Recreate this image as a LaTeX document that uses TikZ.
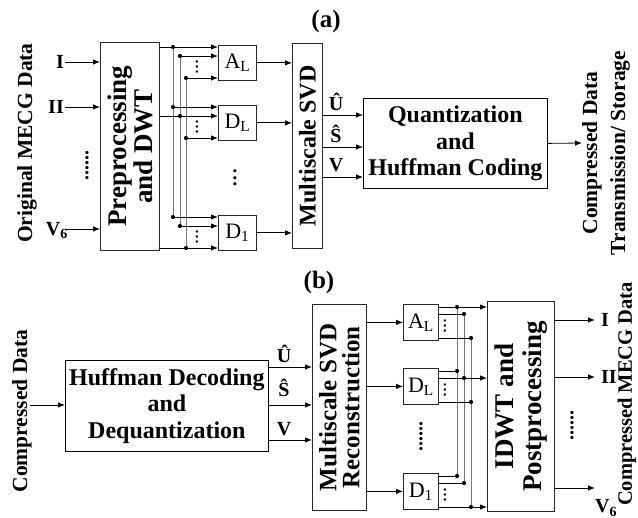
\documentclass[tikz,border=0pt]{standalone}
\usepackage{fontspec}
\setmainfont{Liberation Serif}
\usetikzlibrary{arrows.meta}
\tikzset{
  box/.style={draw=black!85, line width=0.8pt, inner sep=0pt, anchor=north west},
  arr/.style={line width=0.8pt, -{Latex[length=7pt,width=5.5pt]}},
  ln/.style={line width=0.8pt},
  bus/.style={line width=0.9pt, draw=black!55},
  lbl/.style={font=\fontsize{21.5}{28}\selectfont\bfseries, align=center},
  boxtxt/.style={font=\fontsize{24}{26.5}\selectfont\bfseries, align=center},
  bigtxt/.style={font=\fontsize{27}{26}\selectfont\bfseries, align=center},
  sym/.style={font=\fontsize{20}{22}\selectfont\bfseries, inner sep=0pt},
  subtxt/.style={font=\fontsize{22}{24}\selectfont, inner sep=0pt},
  title/.style={font=\fontsize{25}{27}\selectfont\bfseries},
  vdots/.style={rotate=90, font=\fontsize{20}{20}\selectfont, inner sep=0pt},
}
\newcommand{\busdot}[1]{\fill (#1) circle (2.1pt);}
\begin{document}
\begin{tikzpicture}[x=1pt,y=-1pt]
\useasboundingbox (0,0) rectangle (638,518);

%================ (a) ================
\node[title] (ta) at (326,21) {(a)};
\node[lbl, rotate=90] (orig) at (27,143) {Original MECG Data};

\node[box, minimum width=59pt, minimum height=208pt] (pp) at (100,42) {};
\node[bigtxt, rotate=90] (pptxt) at (pp.center) {Preprocessing\\and DWT};

\coordinate (aI) at (65,62);
\coordinate (aII) at (65,107);
\coordinate (aV) at (65,229);
\node[sym, anchor=base east] (laI) at (64,68.5) {I};
\node[sym, anchor=base east] (laII) at (64,113.5) {II};
\node[sym, anchor=base east] (laV) at (68,235.5) {V\textsubscript{6}};
\draw[arr] (aI) -- (pp.west |- aI);
\draw[arr] (aII) -- (pp.west |- aII);
\draw[arr] (aV) -- (pp.west |- aV);
\node[vdots, font=\fontsize{20}{20}\selectfont\bfseries] (adots) at (87,166) {......};

% sub-band boxes
\node[box, minimum width=38pt, minimum height=35pt] (aAL) at (218,45) {};
\node[box, minimum width=38pt, minimum height=35pt] (aDL) at (218,105) {};
\node[box, minimum width=38pt, minimum height=35pt] (aD1) at (218,215) {};
\node[subtxt] (aALt) at (aAL.center) {A\textsubscript{L}};
\node[subtxt] (aDLt) at (aDL.center) {D\textsubscript{L}};
\node[subtxt] (aD1t) at (aD1.center) {D\textsubscript{1}};
\node[vdots, font=\fontsize{26}{26}\selectfont] (amid) at (235,178) {...};

% bus points
\coordinate (a1) at (173,47);  \coordinate (a2) at (180,56);  \coordinate (a3) at (186,78);
\coordinate (d1) at (173,107); \coordinate (d2) at (180,116); \coordinate (d3) at (186,138);
\coordinate (e1) at (173,217); \coordinate (e2) at (180,226); \coordinate (e3) at (186,248);
\draw[bus] (a1) -- (e1);
\draw[bus] (a2) -- (e2);
\draw[bus] (a3) -- (e3);
\draw[arr] (pp.east |- a1) -- (aAL.west |- a1);
\draw[arr] (a2) -- (aAL.west |- a2);
\draw[arr] (a3) -- (aAL.west |- a3);
\draw[arr] (d1) -- (aDL.west |- d1);
\draw[arr] (pp.east |- d2) -- (aDL.west |- d2);
\draw[arr] (d3) -- (aDL.west |- d3);
\draw[arr] (e1) -- (aD1.west |- e1);
\draw[arr] (e2) -- (aD1.west |- e2);
\draw[arr] (pp.east |- e3) -- (aD1.west |- e3);
\foreach \p in {a1,a2,a3,d1,d2,d3,e1,e2,e3} {\busdot{\p}}
\node[vdots] (av1) at (197,67) {...};
\node[vdots] (av2) at (197,127) {...};
\node[vdots] (av3) at (197,237) {...};

% multiscale SVD
\node[box, minimum width=30pt, minimum height=205pt] (asvd) at (292,43) {};
\node[boxtxt, rotate=90] (asvdt) at (asvd.center) {Multiscale SVD};
\draw[arr] (aAL.east) -- (asvd.west |- aAL.east);
\draw[arr] (aDL.east) -- (asvd.west |- aDL.east);
\draw[arr] (aD1.east) -- (asvd.west |- aD1.east);

% quantization
\node[box, draw=black, minimum width=184pt, minimum height=90pt] (aq) at (363,98) {};
\node[boxtxt] (aqt) at (aq.center) {Quantization\\and\\Huffman Coding};
\coordinate (aU) at (322,115);
\coordinate (aS) at (322,147);
\coordinate (aVV) at (322,177);
\draw[arr] (aU) -- (aq.west |- aU);
\draw[arr] (aS) -- (aq.west |- aS);
\draw[arr] (aVV) -- (aq.west |- aVV);
\node[sym, anchor=base] (laU) at (336,111) {Û};
\node[sym, anchor=base] (laS) at (336,143) {Ŝ};
\node[sym, anchor=base] (laVV) at (336,172) {V};
\coordinate (aout) at (582,143);
\draw[arr] (aq.east) -- (aout);
\node[lbl, rotate=90] (acd) at (606,153) {Compressed Data\\Transmission/ Storage};

%================ (b) ================
\node[title] (tb) at (319,282) {(b)};
\node[lbl, rotate=90] (bcd) at (22,411) {Compressed Data};
\node[box, draw=black, minimum width=203pt, minimum height=91pt] (bhd) at (65,360) {};
\node[boxtxt] (bhdt) at (bhd.center) {Huffman Decoding\\and\\Dequantization};
\coordinate (bin) at (30,405);
\draw[arr] (bin) -- (bhd.west |- bin);

\node[box, minimum width=54pt, minimum height=206pt] (bsvd) at (312,304) {};
\node[font=\fontsize{25}{23}\selectfont\bfseries, align=center, rotate=90] (bsvdt) at (bsvd.center) {Multiscale SVD\\Reconstruction};
\coordinate (bU) at (268,367);
\coordinate (bS) at (268,405);
\coordinate (bVV) at (268,440);
\draw[arr] (bU) -- (bsvd.west |- bU);
\draw[arr] (bS) -- (bsvd.west |- bS);
\draw[arr] (bVV) -- (bsvd.west |- bVV);
\node[sym, anchor=base] (lbU) at (284,363) {Û};
\node[sym, anchor=base] (lbS) at (284,397) {Ŝ};
\node[sym, anchor=base] (lbVV) at (284,436) {V};

\node[box, minimum width=35pt, minimum height=36pt] (bAL) at (403,304) {};
\node[box, minimum width=35pt, minimum height=36pt] (bDL) at (403,368) {};
\node[box, minimum width=35pt, minimum height=36pt] (bD1) at (403,473) {};
\node[subtxt] (bALt) at (bAL.center) {A\textsubscript{L}};
\node[subtxt] (bDLt) at (bDL.center) {D\textsubscript{L}};
\node[subtxt] (bD1t) at (bD1.center) {D\textsubscript{1}};
\draw[arr] (bsvd.east |- bAL.west) -- (bAL.west);
\draw[arr] (bsvd.east |- bDL.west) -- (bDL.west);
\draw[arr] (bsvd.east |- bD1.west) -- (bD1.west);
\node[vdots, font=\fontsize{20}{20}\selectfont\bfseries] (bmid) at (421,437) {......};

\node[box, minimum width=67pt, minimum height=210pt] (bid) at (487,301) {};
\node[bigtxt, rotate=90, font=\fontsize{27}{28}\selectfont\bfseries] (bidt) at (bid.center) {IDWT and\\Postprocessing};

\coordinate (p1) at (457,307); \coordinate (p2) at (464,314); \coordinate (p3) at (471,338);
\coordinate (q1) at (457,371); \coordinate (q2) at (464,378); \coordinate (q3) at (471,402);
\coordinate (r1) at (457,476); \coordinate (r2) at (464,483); \coordinate (r3) at (471,507);
\draw[bus] (p1) -- (r1);
\draw[bus] (p2) -- (r2);
\draw[bus] (p3) -- (r3);
\draw[arr] (bAL.east |- p1) -- (bid.west |- p1);
\draw[ln] (bAL.east |- p2) -- (p2);
\draw[ln] (bAL.east |- p3) -- (p3);
\draw[ln] (bDL.east |- q1) -- (q1);
\draw[arr] (bDL.east |- q2) -- (bid.west |- q2);
\draw[ln] (bDL.east |- q3) -- (q3);
\draw[ln] (bD1.east |- r1) -- (r1);
\draw[ln] (bD1.east |- r2) -- (r2);
\draw[arr] (bD1.east |- r3) -- (bid.west |- r3);
\foreach \p in {p1,p2,p3,q1,q2,q3,r1,r2,r3} {\busdot{\p}}
\node[vdots] (bv1) at (445,326) {...};
\node[vdots] (bv2) at (445,390) {...};
\node[vdots] (bv3) at (445,495) {...};

\coordinate (oI) at (595,320);
\coordinate (oII) at (595,377);
\coordinate (oV) at (595,488);
\draw[arr] (bid.east |- oI) -- (oI);
\draw[arr] (bid.east |- oII) -- (oII);
\draw[arr] (bid.east |- oV) -- (oV);
\node[sym, anchor=base west] (lbI) at (601,326.5) {I};
\node[sym, anchor=base west] (lbII) at (601,383.5) {II};
\node[sym, anchor=base west] (lbV) at (595,513) {V\textsubscript{6}};
\node[vdots, font=\fontsize{20}{20}\selectfont\bfseries] (bodots) at (572,426) {......};
\node[font=\fontsize{20.5}{24}\selectfont\bfseries, rotate=90] (bmecg) at (627,394) {Compressed MECG Data};
\end{tikzpicture}
\end{document}
